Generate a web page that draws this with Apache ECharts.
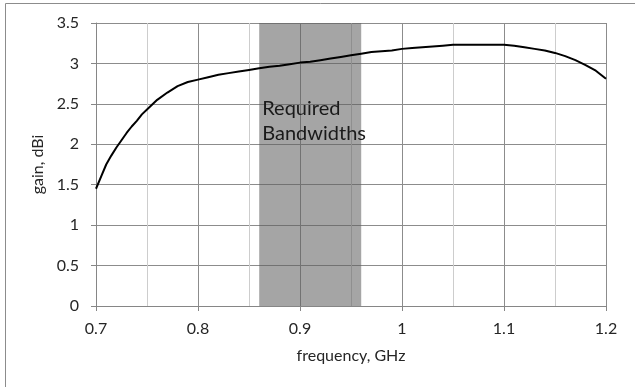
<!DOCTYPE html>
<html>
<head>
<meta charset="utf-8">
<script src="https://cdn.jsdelivr.net/npm/echarts@6/dist/echarts.min.js"></script>
<style>
html,body{margin:0;padding:0;background:#fff;}
#chart{width:635px;height:387px;}
</style>
</head>
<body>
<div id="chart"></div>
<script>
// Data
var frequency = [0.700,0.705,0.710,0.715,0.720,0.725,0.730,0.735,0.740,0.745,0.750,0.760,0.770,0.780,0.790,0.800,0.810,0.820,0.830,0.840,0.850,0.860,0.870,0.880,0.890,0.900,0.910,0.920,0.930,0.940,0.950,0.960,0.970,0.980,0.990,1.000,1.010,1.020,1.030,1.040,1.050,1.060,1.070,1.080,1.090,1.100,1.110,1.120,1.130,1.140,1.150,1.160,1.170,1.180,1.190,1.200];
var gain = [1.45,1.60,1.75,1.86,1.96,2.05,2.14,2.22,2.29,2.37,2.43,2.55,2.64,2.72,2.77,2.80,2.83,2.86,2.88,2.90,2.92,2.94,2.96,2.97,2.99,3.01,3.02,3.04,3.06,3.08,3.10,3.12,3.14,3.15,3.16,3.18,3.19,3.20,3.21,3.22,3.23,3.23,3.23,3.23,3.23,3.23,3.22,3.20,3.18,3.16,3.13,3.09,3.04,2.98,2.91,2.81];
var bandStart = 0.86;
var bandEnd = 0.96;
var bandLabel = 'Required\nBandwidths';
var xTitle = 'frequency, GHz';
var yTitle = 'gain, dBi';

var points = frequency.map(function (f, i) { return [f, gain[i]]; });
var FONT = 'Lato, "Open Sans", sans-serif';

var chart = echarts.init(document.getElementById('chart'), null, {renderer: 'canvas'});
chart.setOption({
  animation: false,
  backgroundColor: '#ffffff',
  graphic: [{
    type: 'rect',
    shape: {x: 5.5, y: 3.5, width: 700, height: 500},
    style: {fill: 'none', stroke: '#8c8c8c', lineWidth: 1},
    silent: true, z: -10
  }],
  grid: {left: 96, right: 29, top: 23, bottom: 81, containLabel: false},
  xAxis: {
    type: 'value',
    min: 0.7, max: 1.2, interval: 0.1,
    name: xTitle,
    nameLocation: 'middle',
    nameGap: 42,
    nameTextStyle: {fontFamily: FONT, fontSize: 16, color: '#262626'},
    axisLine: {show: true, onZero: false, lineStyle: {color: '#868686', width: 1}},
    axisTick: {show: true, inside: false, length: 5, lineStyle: {color: '#868686'}},
    axisLabel: {fontFamily: FONT, fontSize: 16, color: '#262626', margin: 15,
      formatter: function (v) { return String(Math.round(v * 10) / 10); }},
    splitLine: {show: true, lineStyle: {color: '#8c8c8c', width: 1}},
    minorTick: {show: false, splitNumber: 2},
    minorSplitLine: {show: true, lineStyle: {color: '#cdcdcd', width: 1}}
  },
  yAxis: {
    type: 'value',
    min: 0, max: 3.5, interval: 0.5,
    name: yTitle,
    nameLocation: 'middle',
    nameGap: 48,
    nameTextStyle: {fontFamily: FONT, fontSize: 16, color: '#262626'},
    axisLine: {show: true, lineStyle: {color: '#868686', width: 1}},
    axisTick: {show: true, inside: false, length: 5, lineStyle: {color: '#868686'}},
    axisLabel: {fontFamily: FONT, fontSize: 16, color: '#262626', margin: 17},
    splitLine: {show: true, lineStyle: {color: '#8c8c8c', width: 1}}
  },
  series: [{
    type: 'line',
    data: points,
    showSymbol: false,
    smooth: false,
    lineStyle: {color: '#000000', width: 2},
    z: 5,
    markArea: {
      silent: true,
      itemStyle: {color: 'rgba(95,95,95,0.56)'},
      label: {
        show: true,
        position: 'insideTopLeft',
        distance: 3,
        offset: [0, 70],
        fontFamily: FONT,
        fontSize: 20,
        lineHeight: 25,
        color: '#1a1a1a'
      },
      data: [[
        {name: bandLabel, xAxis: bandStart, yAxis: 3.5},
        {xAxis: bandEnd, yAxis: 0}
      ]]
    }
  }]
});
</script>
</body>
</html>
